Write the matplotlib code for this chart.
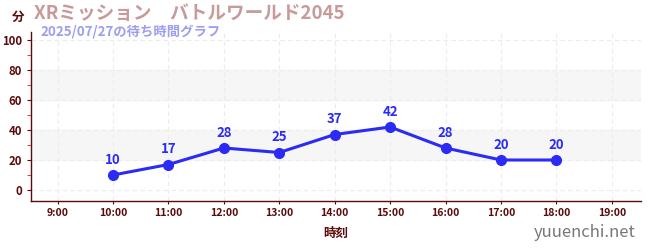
import matplotlib
matplotlib.use("Agg")
import matplotlib.pyplot as plt
from matplotlib.ticker import MultipleLocator

plt.rcParams['font.family'] = ['Noto Sans CJK JP', 'DejaVu Sans']

hours = [10, 11, 12, 13, 14, 15, 16, 17, 18]
waits = [10, 17, 28, 25, 37, 42, 28, 20, 20]
xticks = list(range(9, 20))
xlabels = [f'{h}:00' for h in xticks]

title = 'XRミッション　バトルワールド2045'
subtitle = '2025/07/27の待ち時間グラフ'

dark = '#5c0a0a'
blue = '#2b2bf5'

fig = plt.figure(figsize=(6.5, 2.5), dpi=100)
ax = fig.add_axes([0.0477, 0.198, 0.938, 0.672])

ax.set_xlim(8.52, 19.52)
ax.set_ylim(-7, 105)

# grey bands
for lo, hi in [(20, 40), (60, 80)]:
    ax.axhspan(lo, hi, color='#f6f6f6', zorder=0)

ax.plot(hours, waits, color=blue, lw=2.2, marker='o', ms=7, zorder=3)
for h, w in zip(hours, waits):
    ax.annotate(str(w), (h, w), xytext=(0, 6), textcoords='offset points',
                ha='center', va='bottom', color=blue, fontsize=9.5, fontweight='bold')

ax.set_xticks(xticks)
ax.set_xticklabels(xlabels)
ax.yaxis.set_major_locator(MultipleLocator(20))
ax.yaxis.set_minor_locator(MultipleLocator(10))
ax.tick_params(axis='both', colors=dark, labelsize=7.6, length=3)
ax.tick_params(axis='y', labelsize=8.2)
ax.tick_params(axis='y', which='minor', colors='#e02020', length=3)
ax.tick_params(axis='x', length=2)
for lab in ax.get_xticklabels() + ax.get_yticklabels():
    lab.set_fontweight('bold')
ax.grid(True, color='#ececec', ls=(0, (4, 3)), lw=0.8)
ax.set_axisbelow(True)

for s in ['top', 'right']:
    ax.spines[s].set_visible(False)
for s in ['left', 'bottom']:
    ax.spines[s].set_color(dark)
    ax.spines[s].set_linewidth(1.0)

ax.set_xlabel('時刻', color=dark, fontsize=9, fontweight='bold', labelpad=6)

fig.text(0.018, 0.93, '分', color=dark, fontsize=9, fontweight='bold', va='center')
fig.text(0.052, 0.945, title, color='#c99a9a', fontsize=13.4, fontweight='bold', va='center')
fig.text(0.062, 0.875, subtitle, color='#9d9df2', fontsize=9.6, fontweight='bold', va='center')
fig.text(0.978, 0.07, 'yuuenchi.net', color='#777777', fontsize=12, ha='right', va='center')

fig.savefig('out.png', dpi=100)
